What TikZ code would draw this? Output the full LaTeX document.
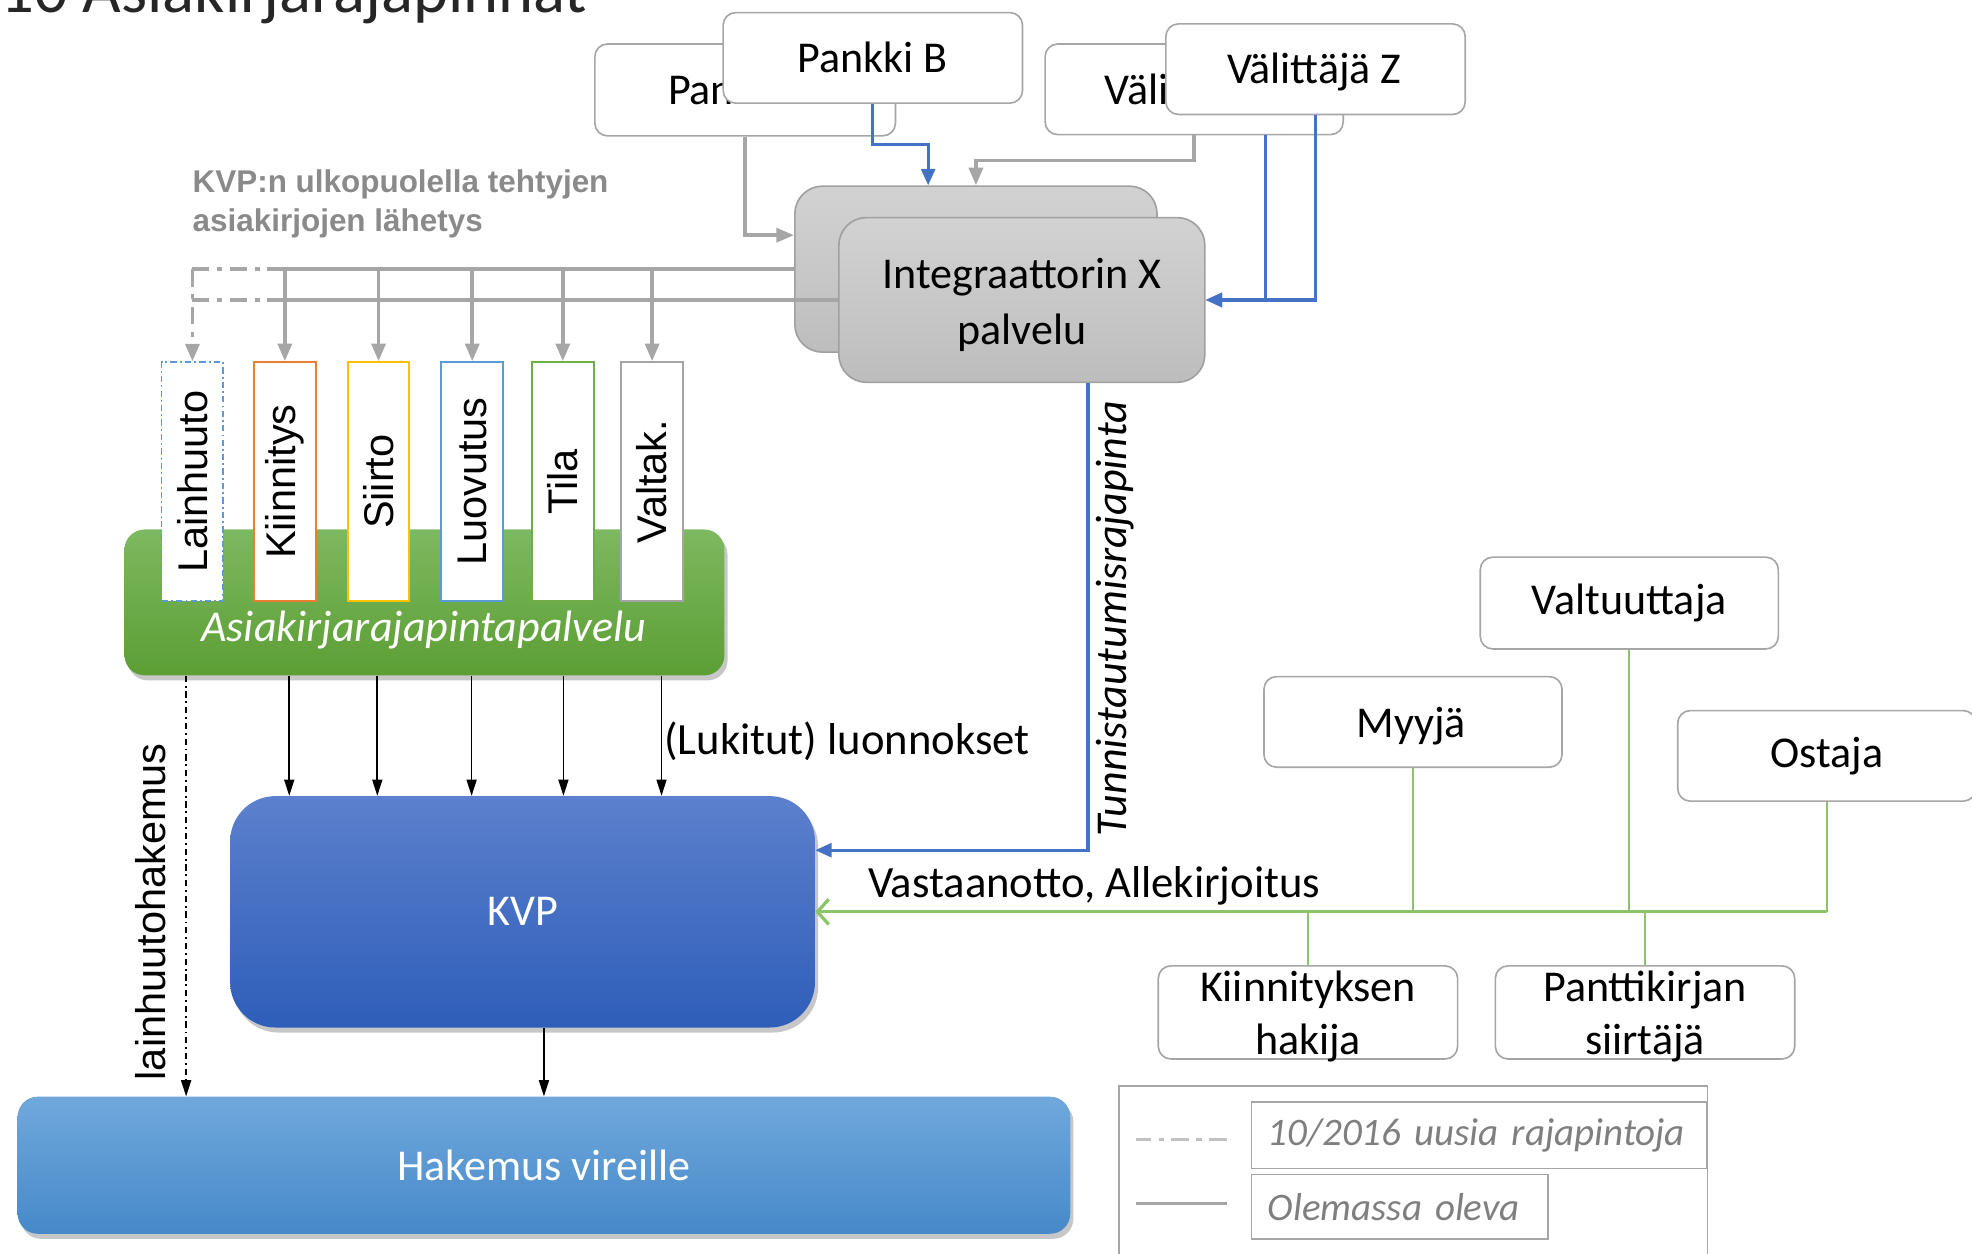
\documentclass[tikz,border=0pt]{standalone}
\usepackage{fontspec}
\setmainfont{Carlito}
\newfontfamily\arialf{Liberation Sans}
\usetikzlibrary{arrows.meta,shadows}
\definecolor{lgray}{HTML}{A6A6A6}
\definecolor{bordgray}{HTML}{A6A6A6}
\definecolor{lblue}{HTML}{4472C4}
\definecolor{lgreen}{HTML}{70AD47}
\definecolor{lgreen2}{HTML}{8CC46A}
\definecolor{inttop}{HTML}{D2D2D2}
\definecolor{intbot}{HTML}{BDBDBD}
\definecolor{intborder}{HTML}{A0A0A0}
\definecolor{gtop}{HTML}{7DB960}
\definecolor{gbot}{HTML}{5C9E34}
\definecolor{ktop}{HTML}{5C80CD}
\definecolor{kbot}{HTML}{2E5EB9}
\definecolor{htop}{HTML}{70A8DC}
\definecolor{hbot}{HTML}{4689C9}
\definecolor{kvpgray}{HTML}{8A8A8A}
\definecolor{titlegray}{HTML}{262626}
\definecolor{legtxt}{HTML}{7F7F7F}
\definecolor{vborange}{HTML}{ED7D31}
\definecolor{vbgold}{HTML}{FFC000}
\definecolor{vbblue}{HTML}{5B9BD5}
\definecolor{vbgreen}{HTML}{70AD47}
\definecolor{vbgray}{HTML}{A5A5A5}
\tikzset{
  f35/.style={font=\fontsize{35pt}{42pt}\selectfont},
  rbox/.style={draw=bordgray, line width=1.3pt, fill=white, rounded corners=10pt,
    minimum width=238pt, minimum height=73pt, inner sep=0pt, align=center,
    font=\fontsize{35pt}{42pt}\selectfont},
  ibox/.style={draw=intborder, line width=1.3pt, top color=inttop, bottom color=intbot,
    rounded corners=22pt, minimum width=291pt, minimum height=131pt, inner sep=0pt},
  vbox/.style={fill=white, line width=1.6pt, minimum width=49pt, minimum height=190pt,
    inner sep=0pt, font=\arialf\fontsize{33pt}{40pt}\selectfont},
  gline/.style={draw=lgray, line width=3pt},
  garrow/.style={gline, -{Triangle[length=14pt,width=11pt]}},
  gdash/.style={gline, dash pattern=on 14pt off 6pt on 4pt off 6pt},
  gdasharrow/.style={gdash, -{Triangle[length=14pt,width=11pt]}},
  bline/.style={draw=lblue, line width=2.6pt},
  barrow/.style={bline, -{Triangle[length=13pt,width=11pt]}},
  karrow/.style={draw=black, line width=1.3pt, -{Triangle[length=13pt,width=8pt]}},
  kdasharrow/.style={karrow, dash pattern=on 5pt off 3pt on 1.5pt off 3pt},
  grl/.style={draw=lgreen2, line width=1.6pt},
  grmain/.style={draw=lgreen2, line width=2.6pt},
  shadowed/.style={drop shadow={shadow xshift=2.5pt, shadow yshift=-4pt, opacity=0.22, fill=black}},
  legbox/.style={draw=bordgray, line width=1.3pt, minimum height=53pt, inner xsep=13pt,
    inner ysep=0pt, align=left, text=legtxt, font=\itshape\fontsize{31pt}{37pt}\selectfont}
}
\begin{document}
\begin{tikzpicture}[x=1pt,y=-1pt]
\useasboundingbox (0,0) rectangle (1568,997);
\clip (0,0) rectangle (1568,997);

% title (cut off at top)
\node[anchor=base west, inner sep=0pt, text=titlegray,
  font=\fontsize{53pt}{60pt}\selectfont] (title) at (0,10) {10 Asiakirjarajapinnat};

% note
\node[anchor=north west, inner sep=0pt, align=left, text=kvpgray,
  font=\arialf\bfseries\fontsize{25pt}{31pt}\selectfont] (note) at (153,135)
  {KVP:n ulkopuolella tehtyjen\\asiakirjojen lähetys};

% top boxes (back ones partly hidden)
\node[rbox, minimum width=239pt] (pa) at (592.5,71.5) {};
\node[anchor=base west, inner sep=0pt, f35] (pat) at (531,83) {Pank};
\node[rbox, minimum height=72pt] (pb) at (694,46) {Pankki B};
\node[rbox, minimum width=237pt, minimum height=72pt] (vy) at (949.5,71) {};
\node[anchor=base west, inner sep=0pt, f35] (vyt) at (878,83) {Välit};
\node[rbox, minimum height=72pt] (vz) at (1046,55) {};
\node[anchor=base, inner sep=0pt, f35] (vzt) at (1045,66) {Välittäjä Z};

% integrator
\node[ibox, minimum width=288pt, minimum height=132pt] (ib) at (776,214) {};
\node[ibox] (ix) at (812.5,238.5) {};
\node[inner sep=0pt, align=center, font=\fontsize{35pt}{44pt}\selectfont] (ixt)
  at ([yshift=-4pt]ix.center) {Integraattorin X\\palvelu};

% green service box
\node[shadowed, top color=gtop, bottom color=gbot, rounded corners=16pt,
  minimum width=477pt, minimum height=116pt, inner sep=0pt] (gb) at (337.5,479) {};

% vertical boxes
\node[vbox, draw=vbblue, line width=1.3pt, dash pattern=on 5pt off 2.5pt on 1.5pt off 2.5pt] (lh) at (153,383) {\rotatebox{90}{Lainhuuto}};
\node[vbox, draw=vborange] (ki) at (226.5,383) {\rotatebox{90}{Kiinnitys}};
\node[vbox, draw=vbgold] (si) at (301,383) {\rotatebox{90}{Siirto}};
\node[vbox, draw=vbblue] (lu) at (375.5,383) {\rotatebox{90}{Luovutus}};
\node[vbox, draw=vbgreen] (ti) at (447.5,383) {\rotatebox{90}{Tila}};
\node[vbox, draw=vbgray] (va) at (518.5,383) {\rotatebox{90}{Valtak.}};

\node[text=white, inner sep=0pt, font=\itshape\fontsize{35pt}{42pt}\selectfont] (gbt) at (337,501) {Asiakirjarajapintapalvelu};

% KVP and Hakemus
\node[shadowed, top color=ktop, bottom color=kbot, rounded corners=36pt,
  minimum width=465pt, minimum height=184pt, inner sep=0pt, text=white, f35] (kvp) at (415.5,725) {KVP};
\node[shadowed, top color=htop, bottom color=hbot, rounded corners=16pt,
  minimum width=837pt, minimum height=109pt, inner sep=0pt, text=white, f35] (hv) at (432.5,926.5) {Hakemus vireille};

% right boxes
\node[rbox, minimum width=237pt] (vt) at (1295.5,479.5) {Valtuuttaja};
\node[rbox, minimum width=237pt, minimum height=72pt] (my) at (1123.5,574) {};
\node[anchor=base, inner sep=0pt, f35] (myt) at (1122,586) {Myyjä};
\node[rbox, minimum width=237pt, minimum height=72pt] (os) at (1452.5,601) {Ostaja};
\node[rbox, minimum height=74pt] (kh) at (1040,805) {};
\node[inner sep=0pt, align=center, f35] (kht) at ([yshift=-3pt]kh.center) {Kiinnityksen\\hakija};
\node[rbox, minimum height=74pt] (ps) at (1308,805) {};
\node[inner sep=0pt, align=center, f35] (pst) at ([yshift=-3pt]ps.center) {Panttikirjan\\siirtäjä};

% connectors: top boxes -> integrator
\draw[garrow] (pa.south) |- ([yshift=27pt]ib.west);
\draw[barrow] (pb.south) -- ++(0,32) -| ([xshift=-38pt]ib.north);
\draw[garrow] (vy.south) -- ++(0,20) -| (ib.north);
\draw[barrow] ([xshift=56.5pt]vy.south) |- (ix.east);
\draw[barrow] (vz.south) |- (ix.east);

% integrator -> document boxes
\draw[gline] (ib.west) -- (ki.north |- ib.west);
\draw[gline] (ix.west) -- (ki.north |- ix.west);
\draw[gdash] (ki.north |- ix.west) -- (lh.north |- ix.west);
\draw[gdash] (ki.north |- ib.west) -- (lh.north |- ib.west);
\draw[gdasharrow] (lh.north |- ib.west) -- (lh.north);
\draw[garrow] (ki.north |- ib.west) -- (ki.north);
\draw[garrow] (si.north |- ib.west) -- (si.north);
\draw[garrow] (lu.north |- ib.west) -- (lu.north);
\draw[garrow] (ti.north |- ib.west) -- (ti.north);
\draw[garrow] (va.north |- ib.west) -- (va.north);

% green box -> KVP
\coordinate (g0) at ([xshift=-189.5pt]gb.south);
\coordinate (g1) at ([xshift=-107.5pt]gb.south);
\coordinate (g2) at ([xshift=-37.5pt]gb.south);
\coordinate (g3) at ([xshift=37.5pt]gb.south);
\coordinate (g4) at ([xshift=110.5pt]gb.south);
\coordinate (g5) at ([xshift=188.5pt]gb.south);
\draw[karrow] (g1) -- (g1 |- kvp.north);
\draw[karrow] (g2) -- (g2 |- kvp.north);
\draw[karrow] (g3) -- (g3 |- kvp.north);
\draw[karrow] (g4) -- (g4 |- kvp.north);
\draw[karrow] (g5) -- (g5 |- kvp.north);
\draw[kdasharrow] (g0) -- (g0 |- hv.north);
\draw[karrow] (hv.north |- kvp.south) -- (hv.north);

\node[rotate=90, inner sep=0pt, font=\arialf\fontsize{33pt}{40pt}\selectfont] (lhl) at (120,725) {lainhuutohakemus};
\node[anchor=west, inner sep=0pt, font=\fontsize{35.5pt}{42pt}\selectfont] (luon) at (528,589) {(Lukitut) luonnokset};

% authentication interface
\draw[barrow] ([xshift=52.5pt]ix.south) |- ([yshift=49pt]kvp.east);
\node[rotate=90, inner sep=0pt, font=\itshape\fontsize{35pt}{42pt}\selectfont] (tun) at (887,492) {Tunnistautumisrajapinta};

% parties -> KVP
\draw[grl] (my.south) -- (my.south |- kvp.east);
\draw[grl] (vt.south) -- (vt.south |- kvp.east);
\draw[grl] (kh.north) -- (kh.north |- kvp.east);
\draw[grl] (ps.north) -- (ps.north |- kvp.east);
\draw[grl] (os.south) -- (os.south |- kvp.east);
\draw[grmain, -{Straight Barb[length=9pt,width=20pt]}] (os.south |- kvp.east) -- (kvp.east);
\node[anchor=west, inner sep=0pt, font=\fontsize{35.5pt}{42pt}\selectfont] (vast) at (690,704) {Vastaanotto, Allekirjoitus};

% legend
\node[draw=bordgray, line width=1.3pt, anchor=north west, minimum width=468pt,
  minimum height=170pt, inner sep=0pt] (lg) at (889,863) {};
\node[legbox, text width=336pt] (lt1) at (1176,902.5) {10/2016 uusia rajapintoja};
\node[legbox, text width=210pt, minimum height=51pt] (lt2) at (1113,959.5) {Olemassa oleva};
\draw[draw=lgray!70, line width=3pt, dash pattern=on 14pt off 6pt on 4pt off 6pt]
  ([xshift=-19pt,yshift=-3.5pt]lt1.west) -- ++(-72,0);
\draw[draw=lgray, line width=3pt] ([xshift=-19pt,yshift=2.5pt]lt2.west) -- ++(-72,0);
\end{tikzpicture}
\end{document}
